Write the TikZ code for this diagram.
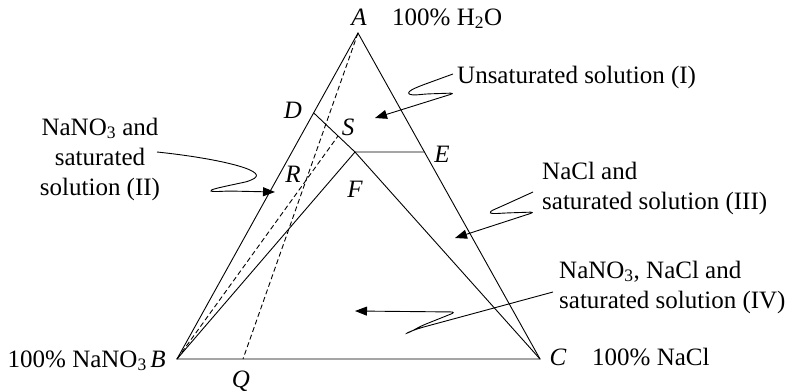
\documentclass[tikz,border=0pt]{standalone}
\usepackage{fontspec}
\setmainfont{Liberation Serif}
\usetikzlibrary{arrows.meta,positioning,calc}

\begin{document}
\begin{tikzpicture}[
  x=1pt, y=-1pt,
  edge/.style={line width=0.9pt},
  guide/.style={line width=0.9pt, dash pattern=on 5pt off 3pt},
  arrow/.style={line width=0.9pt, rounded corners=5pt,
                -{Stealth[length=12pt,width=9pt,inset=0pt]}},
  txt/.style={inner sep=0pt, font=\fontsize{25}{30}\selectfont},
  vtx/.style={inner sep=0pt, font=\fontsize{25}{30}\selectfont\itshape}
]
\useasboundingbox (0,0) rectangle (790,391);

% Corners of the triangle and points on it
\coordinate (A) at (358,33);
\coordinate (B) at (177,359);
\coordinate (C) at (540,359);
\coordinate (D) at ($(A)!0.245!(B)$);
\coordinate (E) at ($(A)!0.365!(C)$);
\coordinate (J) at (355,152);
\coordinate (S) at ($(D)!0.59!(J)$);
\coordinate (Q) at (243,359);

% Sides and phase boundaries
\draw[edge] (A) -- (B) -- (C) -- cycle;
\draw[edge] (D) -- (J) -- (E);
\draw[edge] (B) -- (J) -- (C);

% Dashed lines
\draw[guide] (A) -- (Q);
\draw[guide] (B) -- (S);

% Point labels
\node[vtx, anchor=base] (labA) at (359,25) {A};
\node[vtx, anchor=base] (labB) at (158,367) {B};
\node[vtx, anchor=base] (labC) at (558,365) {C};
\node[vtx, anchor=base] (labD) at (293,118) {D};
\node[vtx, anchor=base] (labE) at (442,162) {E};
\node[vtx, anchor=base] (labS) at (348,135) {S};
\node[vtx, anchor=base] (labR) at (293,182) {R};
\node[vtx, anchor=base] (labF) at (355,197) {F};
\node[vtx, anchor=base] (labQ) at (241,387) {Q};

% Corner compositions
\node[txt, anchor=base west] (pureA) at (392,25) {100\% H\textsubscript{2}O};
\node[txt, anchor=base east] (pureB) at (147,367) {100\% NaNO\textsubscript{3}};
\node[txt, anchor=base west] (pureC) at (592,365) {100\% NaCl};

% Region names
\node[txt, anchor=base west] (regI) at (457,83) {Unsaturated solution (I)};
\node[txt, align=center] (regII) at (100,159) {NaNO\textsubscript{3} and\\saturated\\solution (II)};
\node[txt, align=left, anchor=west] (regIII) at (542,188) {NaCl and\\saturated solution (III)};
\node[txt, align=left, anchor=west] (regIV) at (559,287) {NaNO\textsubscript{3}, NaCl and\\saturated solution (IV)};

% Ends of the arrows
\coordinate (fromII) at (157,152);
\coordinate (fromIII) at (533,192);
\coordinate (fromIV) at (553,292);
\coordinate (tipI) at (375,118);
\coordinate (tipII) at (275,192);
\coordinate (tipIII) at (455,238);
\coordinate (tipIV) at (355,311);

% Arrows into the regions
\draw[arrow] ([xshift=-4pt,yshift=3pt]regI.west) -- (420,86)
  .. controls (404,93) and (408,96) .. (425,94) -- (455,93) -- (tipI);
\draw[arrow] (fromII) .. controls (215,158) and (268,170) .. (250,181) -- (222,187)
  .. controls (206,191) and (210,192) .. (228,191) -- (tipII);
\draw[arrow] (fromIII) -- (500,207)
  .. controls (486,213) and (490,214) .. (505,213) -- (535,212) -- (tipIII);
\draw[arrow] (fromIV) -- (420,328)
  .. controls (403,334) and (405,335) .. (421,326) -- (456,312) -- (tipIV);

\end{tikzpicture}
\end{document}
